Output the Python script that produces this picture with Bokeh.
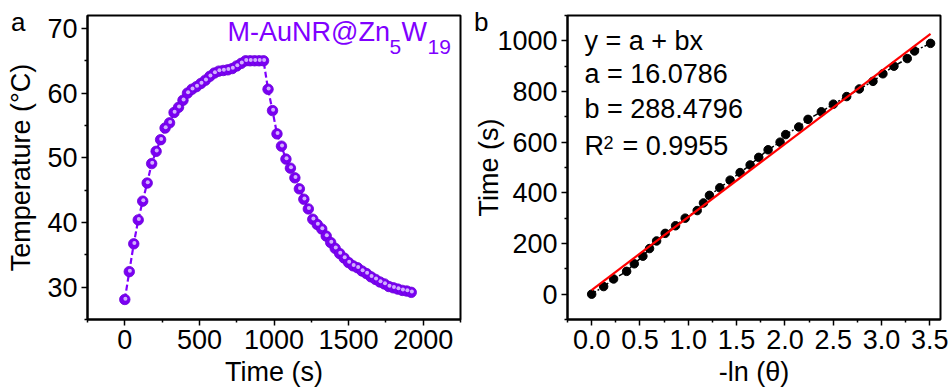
from bokeh.plotting import figure
from bokeh.layouts import row
from bokeh.models import Label, Range1d, FixedTicker, PrintfTickFormatter, LinearAxis
from bokeh.embed import file_html
from bokeh.resources import INLINE

# ---- panel a data ----
time_s = [0, 30, 60, 90, 120, 150, 180, 210, 240, 270, 300, 330, 360, 390, 420, 450,
          480, 510, 540, 570, 600, 630, 660, 690, 720, 750, 780, 810, 840, 870, 900, 930,
          960, 990, 1020, 1050, 1080, 1110, 1140, 1170, 1200, 1230, 1260, 1290, 1320, 1350,
          1380, 1410, 1440, 1470, 1500, 1530, 1560, 1590, 1620, 1650, 1680, 1710, 1740,
          1770, 1800, 1830, 1860, 1890, 1920]
temperature = [28.1, 32.4, 36.7, 40.4, 43.3, 46.1, 49.1, 51.0, 52.8, 54.6, 55.4, 57.0,
               57.8, 58.9, 60.0, 60.6, 61.0, 61.5, 62.0, 62.6, 63.1, 63.4, 63.5, 63.6,
               63.8, 64.2, 64.6, 65.0, 65.0, 65.0, 65.0, 65.0,
               60.6, 57.3, 53.7, 51.8, 49.8, 48.4, 46.9, 45.2, 43.6, 42.1, 40.5, 39.7,
               39.0, 37.9, 36.9, 36.0, 35.2, 34.5, 33.8, 33.3, 33.0, 32.5, 32.1, 31.6,
               31.2, 30.8, 30.5, 30.1, 29.9, 29.7, 29.5, 29.4, 29.2]
a_xticks = [0, 500, 1000, 1500, 2000]
a_yticks = [30, 40, 50, 60, 70]

# ---- panel b data ----
neg_ln_theta = [0.0, 0.124, 0.227, 0.362, 0.441, 0.530, 0.599, 0.672, 0.761, 0.868,
                0.968, 1.092, 1.157, 1.219, 1.326, 1.433, 1.536, 1.640, 1.729, 1.826,
                1.950, 2.008, 2.143, 2.239, 2.377, 2.501, 2.639, 2.770, 2.911, 3.014,
                3.128, 3.266, 3.341, 3.507]
cool_time = [0, 30, 60, 90, 120, 150, 180, 210, 240, 270, 300, 330, 360, 390, 420, 450,
             480, 510, 540, 570, 600, 630, 660, 690, 720, 750, 780, 810, 840, 870, 900,
             930, 960, 990]
fit_a = 16.0786
fit_b = 288.4796
fit_r2 = 0.9955
b_xticks = [0.0, 0.5, 1.0, 1.5, 2.0, 2.5, 3.0, 3.5]
b_yticks = [0, 200, 400, 600, 800, 1000]

FONT = "Liberation Sans"
PURPLE = "#8000FF"


def style(p, xticks, xminor, yticks, yminor):
    p.grid.visible = False
    p.outline_line_color = "black"
    p.outline_line_width = 2
    p.background_fill_color = "white"
    p.border_fill_color = "white"
    for ax in (p.xaxis[0], p.yaxis[0]):
        ax.axis_line_width = 2
        ax.axis_line_color = "black"
        ax.major_tick_line_width = 1.5
        ax.minor_tick_line_width = 1.5
        ax.major_tick_out = 6
        ax.major_tick_in = 0
        ax.minor_tick_out = 3
        ax.minor_tick_in = 0
        ax.major_label_text_font = FONT
        ax.major_label_text_font_size = "27px"
        ax.major_label_text_color = "black"
        ax.axis_label_text_font = FONT
        ax.axis_label_text_font_size = "27px"
        ax.axis_label_text_font_style = "normal"
        ax.axis_label_text_color = "black"
        ax.major_label_standoff = 4
    p.xaxis[0].ticker = FixedTicker(ticks=xticks, minor_ticks=xminor)
    p.yaxis[0].ticker = FixedTicker(ticks=yticks, minor_ticks=yminor)


def panel_letter(p, letter, tick, standoff):
    # a bare axis whose only tick label is the panel letter, so it can sit outside the frame
    ax = LinearAxis(ticker=FixedTicker(ticks=[tick], minor_ticks=[]),
                    major_label_overrides={tick: letter})
    ax.axis_line_color = None
    ax.major_tick_line_color = None
    ax.minor_tick_line_color = None
    ax.major_tick_out = 0
    ax.major_tick_in = 0
    ax.major_label_standoff = standoff
    ax.major_label_text_font = FONT
    ax.major_label_text_font_size = "26px"
    ax.major_label_text_color = "black"
    p.add_layout(ax, "left")


# ---------------- panel a ----------------
pa = figure(width=470, height=389, output_backend="svg", toolbar_location=None,
            x_range=Range1d(-250, 2250), y_range=Range1d(25, 72),
            min_border_left=87, min_border_right=10, min_border_top=15, min_border_bottom=65)
style(pa, a_xticks, [-250, 250, 750, 1250, 1750, 2250], a_yticks, [25, 35, 45, 55, 65])
pa.xaxis[0].axis_label = "Time (s)"
pa.yaxis[0].axis_label = "Temperature (°C)"
pa.xaxis[0].axis_label_standoff = 5
pa.yaxis[0].axis_label_standoff = 8
panel_letter(pa, "a", 71, -22)

pa.line(time_s, temperature, line_color=PURPLE, line_width=2.2, line_dash="6 3")
pa.scatter(time_s, temperature, size=10.5, fill_color="#7A00F2", line_color="#6A00D8", line_width=0.8)
pa.scatter([t + 4 for t in time_s], [v + 0.12 for v in temperature], size=4,
           fill_color="#DCC2FF", line_color=None, fill_alpha=0.9)

pa.add_layout(Label(x=-250, y=72, x_offset=140, y_offset=-31, text="M-AuNR@Zn",
                    text_font=FONT, text_font_size="27px", text_color=PURPLE))
pa.add_layout(Label(x=-250, y=72, x_offset=302, y_offset=-38, text="5",
                    text_font=FONT, text_font_size="21px", text_color=PURPLE))
pa.add_layout(Label(x=-250, y=72, x_offset=314, y_offset=-31, text="W",
                    text_font=FONT, text_font_size="27px", text_color=PURPLE))
pa.add_layout(Label(x=-250, y=72, x_offset=340, y_offset=-38, text="19",
                    text_font=FONT, text_font_size="21px", text_color=PURPLE))

# ---------------- panel b ----------------
pb = figure(width=479, height=389, output_backend="svg", toolbar_location=None,
            x_range=Range1d(-0.25, 3.61), y_range=Range1d(-100, 1100),
            min_border_left=97, min_border_right=9, min_border_top=15, min_border_bottom=65)
style(pb, b_xticks, [-0.25, 0.25, 0.75, 1.25, 1.75, 2.25, 2.75, 3.25],
      b_yticks, [-100, 100, 300, 500, 700, 900, 1100])
pb.xaxis[0].formatter = PrintfTickFormatter(format="%.1f")
pb.xaxis[0].axis_label = "-ln (θ)"
pb.yaxis[0].axis_label = "Time (s)"
pb.xaxis[0].axis_label_standoff = 5
pb.yaxis[0].axis_label_standoff = -10
panel_letter(pb, "b", 1075, -17)

x_fit = [min(neg_ln_theta), max(neg_ln_theta)]
y_fit = [fit_a + fit_b * v for v in x_fit]
pb.line(neg_ln_theta, cool_time, line_color="black", line_width=1.5, line_dash="5 2 2 2")
pb.scatter(neg_ln_theta, cool_time, size=8.5, fill_color="black", line_color="black")
pb.line(x_fit, y_fit, line_color="#FF0000", line_width=2.2)

lines = ["y = a + bx", f"a = {fit_a}", f"b = {fit_b}"]
offs = [-40, -73, -108]
for txt, off in zip(lines, offs):
    pb.add_layout(Label(x=-0.25, y=1100, x_offset=17, y_offset=off, text=txt,
                        text_font=FONT, text_font_size="27px", text_color="black"))
pb.add_layout(Label(x=-0.25, y=1100, x_offset=17, y_offset=-145, text="R",
                    text_font=FONT, text_font_size="27px", text_color="black"))
pb.add_layout(Label(x=-0.25, y=1100, x_offset=36, y_offset=-133, text="2",
                    text_font=FONT, text_font_size="18px", text_color="black"))
pb.add_layout(Label(x=-0.25, y=1100, x_offset=55, y_offset=-145, text=f"= {fit_r2}",
                    text_font=FONT, text_font_size="27px", text_color="black"))

layout = row(pa, pb)
open("out.html", "w").write(file_html(layout, INLINE))
